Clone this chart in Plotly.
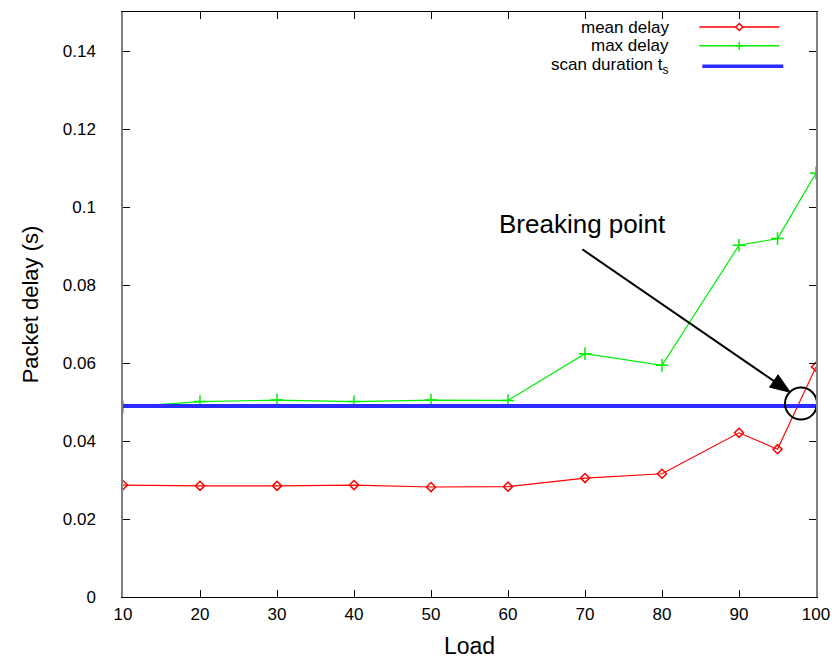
import plotly.graph_objects as go

load = [10, 20, 30, 40, 50, 60, 70, 80, 90, 95, 100]
mean_delay = [0.0287, 0.0285, 0.0285, 0.0287, 0.0282, 0.0283, 0.0305, 0.0316, 0.0421, 0.0379, 0.0590]
max_delay = [0.0487, 0.0501, 0.0505, 0.0501, 0.0505, 0.0504, 0.0624, 0.0594, 0.0902, 0.0919, 0.1087]
scan_x = [10, 100]
scan_duration = [0.049, 0.049]
x_ticks = [10, 20, 30, 40, 50, 60, 70, 80, 90, 100]
y_ticks = [0, 0.02, 0.04, 0.06, 0.08, 0.1, 0.12, 0.14]
y_tick_text = ["0", "0.02", "0.04", "0.06", "0.08", "0.1", "0.12", "0.14"]

RED = "#ff0000"
GREEN = "#00ee00"
BLUE = "#2b2bff"
FONT = "Liberation Sans, Arial, sans-serif"

# plot-area geometry (pixels) used for annotation placement
L, T, R, B = 122.7, 11.7, 815.7, 596.7
W, H = R - L, B - T
X0, X1, Y0, Y1 = 10, 100, 0, 0.15

def px(x):      # pixel -> paper
    return (x - L) / W
def py(y):
    return (B - y) / H
def dx(x):      # pixel -> data
    return X0 + (x - L) / W * (X1 - X0)
def dy(y):
    return Y0 + (B - y) / H * (Y1 - Y0)

fig = go.Figure()
fig.add_trace(go.Scatter(x=load, y=mean_delay, mode="lines+markers", name="mean delay",
                         line=dict(color=RED, width=1.2),
                         marker=dict(symbol="diamond-open", size=7, color=RED, line=dict(width=1.5, color=RED))))
fig.add_trace(go.Scatter(x=load, y=max_delay, mode="lines+markers", name="max delay",
                         line=dict(color=GREEN, width=1.2),
                         marker=dict(symbol="cross-thin", size=9, color=GREEN, line=dict(width=1.5, color=GREEN))))
fig.add_trace(go.Scatter(x=scan_x, y=scan_duration, mode="lines", name="scan duration t<sub>s</sub>",
                         line=dict(color=BLUE, width=4)))

# custom gnuplot-style legend (text on left, sample on right)
legend_rows = [("mean delay", RED, 26.7, 1.5, "diamond"),
               ("max delay", GREEN, 45.5, 1.5, "plus"),
               ("scan duration t<sub>s</sub>", BLUE, 66.0, 3.5, None)]
shapes = []
annotations = []
for text, color, yy, w, mk in legend_rows:
    annotations.append(dict(x=px(671), y=py(yy), xref="paper", yref="paper", text=text,
                            showarrow=False, xanchor="right", yanchor="middle",
                            font=dict(size=17, color="black", family=FONT)))
    x0, x1 = (699, 779) if mk else (702, 783)
    shapes.append(dict(type="line", xref="paper", yref="paper", x0=px(x0), x1=px(x1),
                       y0=py(yy), y1=py(yy), line=dict(color=color, width=w)))
    cx = 739
    if mk == "diamond":
        d = 3.5
        path = "M {} {} L {} {} L {} {} L {} {} Z".format(px(cx - d), py(yy), px(cx), py(yy - d),
                                                         px(cx + d), py(yy), px(cx), py(yy + d))
        shapes.append(dict(type="path", xref="paper", yref="paper", path=path,
                           line=dict(color=color, width=1.5), fillcolor="white"))
    elif mk == "plus":
        d = 4
        shapes.append(dict(type="line", xref="paper", yref="paper", x0=px(cx - d), x1=px(cx + d),
                           y0=py(yy), y1=py(yy), line=dict(color=color, width=1.5)))
        shapes.append(dict(type="line", xref="paper", yref="paper", x0=px(cx), x1=px(cx),
                           y0=py(yy - d), y1=py(yy + d), line=dict(color=color, width=1.5)))

# circle around breaking point
shapes.append(dict(type="circle", xref="x", yref="y", xsizemode="pixel", ysizemode="pixel",
                   xanchor=dx(800.7), yanchor=dy(403.3), x0=-16, x1=16, y0=-16, y1=16,
                   line=dict(color="black", width=2)))

# arrow (line + filled head) drawn as shapes
tail = (582.0, 249.0)
tip = (790.0, 392.0)
vx, vy = tip[0] - tail[0], tip[1] - tail[1]
ln = (vx ** 2 + vy ** 2) ** 0.5
ux, uy = vx / ln, vy / ln
hl, hw = 20.0, 7.5
bx, by = tip[0] - hl * ux, tip[1] - hl * uy
nx, ny = -uy, ux
shapes.append(dict(type="line", xref="x", yref="y", x0=dx(tail[0]), y0=dy(tail[1]),
                   x1=dx(bx + 2 * ux), y1=dy(by + 2 * uy), line=dict(color="black", width=2)))
head = "M {} {} L {} {} L {} {} Z".format(dx(tip[0]), dy(tip[1]),
                                          dx(bx + hw * nx), dy(by + hw * ny),
                                          dx(bx - hw * nx), dy(by - hw * ny))
shapes.append(dict(type="path", xref="x", yref="y", path=head,
                   line=dict(color="black", width=1), fillcolor="black"))

annotations.append(dict(x=dx(582), y=dy(224), xref="x", yref="y", text="Breaking point",
                        showarrow=False, xanchor="center", yanchor="middle",
                        font=dict(size=26, color="black", family=FONT)))

fig.update_layout(
    width=839, height=659,
    margin=dict(l=L, r=839 - R, t=T, b=659 - B, autoexpand=False),
    paper_bgcolor="white", plot_bgcolor="white",
    showlegend=False,
    font=dict(family=FONT, size=16, color="black"),
    shapes=shapes, annotations=annotations,
)
fig.update_xaxes(range=[X0, X1], tickvals=x_ticks, ticks="inside", ticklen=7, tickcolor="black",
                 showline=True, linecolor="black", linewidth=1, mirror="ticks", showgrid=False,
                 zeroline=False, ticklabelstandoff=2, automargin=False,
                 tickfont=dict(size=17, family=FONT),
                 title=dict(text="Load", font=dict(size=23, family=FONT), standoff=14))
fig.update_yaxes(range=[Y0, Y1], tickvals=y_ticks, ticktext=y_tick_text, ticks="inside", ticklen=7,
                 tickcolor="black", showline=True, linecolor="#808080", linewidth=1.5, mirror="ticks",
                 showgrid=False, zeroline=False, ticklabelstandoff=22, automargin=False,
                 tickfont=dict(size=17, family=FONT),
                 title=dict(text="Packet delay (s)", font=dict(size=22, family=FONT), standoff=18))

fig.write_html("out.html", config={"displayModeBar": False},
               post_script="document.body.style.margin='0';document.body.style.overflow='hidden';")
